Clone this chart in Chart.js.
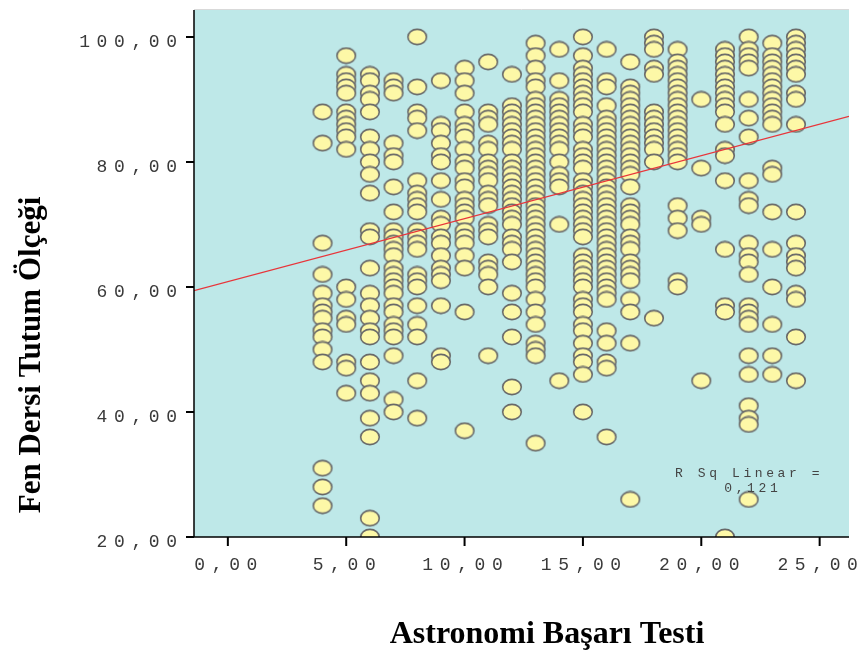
<!DOCTYPE html>
<html>
<head>
<meta charset="utf-8">
<script src="https://cdn.jsdelivr.net/npm/chart.js@4.4.0/dist/chart.umd.min.js"></script>
<style>
  body { margin: 0; background: #fff; }
  canvas { display: block; }
</style>
</head>
<body>
<canvas id="scatterChart" width="859" height="652"></canvas>
<script>
// Astronomi Başarı Testi scores (x) and the Fen Dersi Tutum Ölçeği values seen at each score
const testScores = [4, 5, 6, 7, 8, 9, 10, 11, 12, 13, 14, 15, 16, 17, 18, 19, 20, 21, 22, 23, 24];
const att4 = [88, 83, 67, 62, 59, 57, 56, 55, 53, 52, 50, 48, 31, 28, 25];
const att5 = [97, 94, 93, 92, 91, 88, 87, 86, 85, 84, 82, 60, 58, 55, 54, 48, 47, 43];
const att6 = [94, 93, 91, 90, 88, 84, 82, 80, 78, 75, 69, 68, 63, 59, 57, 55, 53, 52, 48, 45, 43, 39, 36, 23, 20];
const att7 = [93, 92, 91, 83, 81, 80, 76, 72, 69, 68, 67, 66, 65, 63, 62, 61, 60, 59, 57, 56, 54, 53, 52, 49, 42, 40];
const att8 = [100, 92, 88, 87, 85, 77, 75, 74, 73, 72, 69, 68, 67, 66, 62, 61, 60, 57, 54, 52, 45, 39];
const att9 = [93, 86, 85, 83, 81, 80, 77, 74, 71, 70, 68, 67, 65, 63, 62, 61, 57, 49, 48];
const att10 = [95, 93, 91, 88, 86, 85, 84, 82, 80, 79, 77, 76, 74, 73, 72, 71, 69, 68, 67, 65, 63, 56, 37];
const att11 = [96, 88, 87, 86, 83, 82, 80, 79, 78, 77, 75, 74, 73, 70, 69, 68, 64, 63, 62, 60, 49];
const att12 = [94, 89, 88, 87, 86, 85, 84, 83, 82, 80, 79, 78, 77, 76, 75, 74, 73, 72, 71, 70, 68, 67, 66, 64, 59, 56, 52, 44, 40];
const att13 = [99, 97, 95, 93, 92, 90, 89, 88, 87, 86, 85, 84, 83, 82, 81, 80, 79, 78, 77, 76, 75, 74, 73, 72, 71, 70,
               69, 68, 67, 66, 65, 64, 63, 62, 61, 60, 58, 56, 54, 51, 50, 49, 35];
const att14 = [98, 93, 90, 89, 88, 87, 86, 85, 84, 83, 82, 80, 78, 77, 76, 70, 45];
const att15 = [100, 97, 95, 94, 93, 92, 91, 90, 89, 88, 86, 85, 84, 82, 81, 80, 79, 77, 76, 75, 74, 73, 72, 71, 70, 69, 68,
               65, 64, 63, 62, 61, 60, 58, 57, 56, 54, 53, 51, 49, 48, 46, 40];
const att16 = [98, 93, 92, 89, 87, 86, 85, 84, 83, 82, 81, 80, 79, 78, 77, 76, 75, 74, 73, 72, 71, 70, 69, 68, 67, 66,
               65, 64, 63, 62, 61, 60, 59, 58, 53, 51, 48, 47, 36];
const att17 = [96, 92, 91, 90, 89, 88, 87, 86, 85, 84, 83, 82, 81, 80, 79, 78, 76, 73, 72, 71, 70, 68, 67, 66, 64, 63,
               62, 61, 58, 56, 51, 26];
const att18 = [100, 99, 98, 95, 94, 88, 87, 86, 85, 84, 83, 82, 80, 55];
const att19 = [98, 96, 95, 94, 93, 92, 91, 90, 89, 88, 87, 86, 85, 84, 83, 82, 81, 80, 73, 71, 69, 61, 60];
const att20 = [90, 79, 71, 70, 45];
const att21 = [98, 97, 96, 95, 94, 93, 92, 91, 90, 89, 88, 86, 82, 81, 77, 66, 57, 56, 20];
const att22 = [100, 98, 97, 96, 95, 90, 87, 84, 77, 74, 73, 67, 65, 64, 62, 57, 56, 55, 54, 49, 46, 41, 39, 38, 26];
const att23 = [99, 97, 96, 95, 94, 93, 92, 91, 90, 89, 88, 87, 86, 79, 78, 72, 66, 60, 54, 49, 46];
const att24 = [100, 99, 98, 97, 96, 95, 94, 91, 90, 86, 72, 67, 65, 64, 63, 59, 58, 52, 45];
const attitudeColumns = [att4, att5, att6, att7, att8, att9, att10, att11, att12, att13, att14,
                         att15, att16, att17, att18, att19, att20, att21, att22, att23, att24];

const xTicks = [0, 5, 10, 15, 20, 25];
const yTicks = [20, 40, 60, 80, 100];
// fit line end points (x at both plot edges)
const fitX = [-1.43, 26.24];
const fitY = [59.4, 87.3];
const rSquaredText = 'R Sq Linear =';
const rSquaredValue = '0,121';

const points = [];
testScores.forEach((s, i) => {
    attitudeColumns[i].forEach(v => points.push({ x: s, y: v }));
});

// SPSS style marker: pale yellow ellipse with grey outline
const marker = document.createElement('canvas');
marker.width = 22;
marker.height = 18;
const mctx = marker.getContext('2d');
mctx.beginPath();
mctx.ellipse(11, 9, 9.3, 7.6, 0, 0, Math.PI * 2);
mctx.fillStyle = '#fdf8a7';
mctx.fill();
mctx.lineWidth = 1.6;
mctx.strokeStyle = '#686868';
mctx.stroke();

function fmt(v) {
    return v.toFixed(2).replace('.', ',');
}

// draws text one char at a time so the wide SPSS spacing can be copied
function drawSpaced(ctx, text, x, y, align, spacing) {
    const chars = text.split('');
    const widths = chars.map(c => ctx.measureText(c).width);
    const total = widths.reduce((a, b) => a + b, 0) + spacing * (chars.length - 1);
    let start = x;
    if (align === 'right') start = x - total;
    if (align === 'center') start = x - total / 2;
    ctx.textAlign = 'left';
    chars.forEach((c, i) => {
        ctx.fillText(c, start, y);
        start += widths[i] + spacing;
    });
}

const spssFrame = {
    id: 'spssFrame',
    beforeDatasetsDraw(chart) {
        const { ctx, chartArea: a } = chart;
        ctx.save();
        ctx.fillStyle = '#bee8e8';
        ctx.fillRect(a.left, a.top, a.right - a.left, a.bottom - a.top);
        ctx.restore();
    },
    afterDraw(chart) {
        const { ctx, chartArea: a } = chart;
        const xs = chart.scales.x, ys = chart.scales.y;
        ctx.save();

        // top edge
        ctx.strokeStyle = '#d9d9d9';
        ctx.lineWidth = 1;
        ctx.beginPath();
        ctx.moveTo(a.left, a.top - 0.5);
        ctx.lineTo(a.right, a.top - 0.5);
        ctx.stroke();

        // axes
        ctx.strokeStyle = '#000';
        ctx.lineWidth = 1.5;
        ctx.beginPath();
        ctx.moveTo(a.left, a.top);
        ctx.lineTo(a.left, a.bottom);
        ctx.lineTo(a.right, a.bottom);
        ctx.stroke();

        ctx.lineWidth = 2;
        ctx.beginPath();
        yTicks.forEach(t => {
            const py = ys.getPixelForValue(t);
            ctx.moveTo(a.left - 8, py);
            ctx.lineTo(a.left, py);
        });
        xTicks.forEach(t => {
            const px = xs.getPixelForValue(t);
            ctx.moveTo(px, a.bottom);
            ctx.lineTo(px, a.bottom + 9);
        });
        ctx.stroke();

        // tick labels
        ctx.fillStyle = '#3a3a3a';
        ctx.font = '18px "Liberation Mono"';
        ctx.textBaseline = 'middle';
        yTicks.forEach(t => {
            drawSpaced(ctx, fmt(t), 177, ys.getPixelForValue(t) + 5, 'right', 6.6);
        });
        xTicks.forEach(t => {
            drawSpaced(ctx, fmt(t), xs.getPixelForValue(t) - 2, 565, 'center', 6.6);
        });

        // R squared note
        ctx.fillStyle = '#444';
        ctx.font = '13px "Liberation Mono"';
        drawSpaced(ctx, rSquaredText, 675, 474, 'left', 3.6);
        drawSpaced(ctx, rSquaredValue, 751, 489, 'center', 3.6);

        // axis titles
        ctx.fillStyle = '#000';
        ctx.textBaseline = 'alphabetic';
        ctx.textAlign = 'center';
        ctx.font = 'bold 32px "Liberation Serif"';
        ctx.fillText('Astronomi Başarı Testi', 547, 643);
        ctx.font = 'bold 31px "Liberation Serif"';
        ctx.translate(40, 355);
        ctx.rotate(-Math.PI / 2);
        ctx.fillText('Fen Dersi Tutum Ölçeği', 0, 0);
        ctx.restore();
    }
};

const ctxScatter = document.getElementById('scatterChart').getContext('2d');
const scatterChart = new Chart(ctxScatter, {
    type: 'scatter',
    data: {
        datasets: [
            {
                type: 'line',
                data: fitX.map((x, i) => ({ x: x, y: fitY[i] })),
                borderColor: '#e8353a',
                borderWidth: 1.2,
                pointRadius: 0,
                fill: false,
                order: 0,
                clip: 0
            },
            {
                data: points,
                pointStyle: marker,
                pointRadius: 9,
                order: 1,
                clip: 0
            }
        ]
    },
    options: {
        responsive: false,
        animation: false,
        layout: {
            padding: { left: 194, top: 7, right: 7, bottom: 115 }
        },
        plugins: {
            legend: { display: false },
            tooltip: { enabled: false }
        },
        scales: {
            x: { type: 'linear', min: -1.43, max: 26.24, display: false },
            y: { type: 'linear', min: 20, max: 104.3, display: false }
        }
    },
    plugins: [spssFrame]
});
</script>
</body>
</html>
